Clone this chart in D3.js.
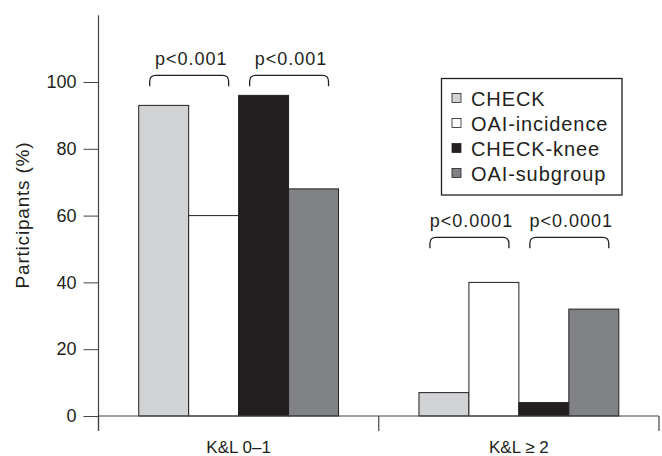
<!DOCTYPE html>
<html><head><meta charset="utf-8">
<script src="https://cdn.jsdelivr.net/npm/d3@7"></script>
<style>
body{margin:0;background:#fff;}
text{font-family:"Liberation Sans",Arial,Helvetica,sans-serif;fill:#231f20;}
</style></head>
<body><svg id="chart" width="662" height="456"></svg>
<script>
const groups = ["K&L 0\u20131", "K&L \u2265 2"];
const series = ["CHECK", "OAI-incidence", "CHECK-knee", "OAI-subgroup"];
const colors = ["#d1d3d4", "#ffffff", "#231f20", "#808285"];
const valuesKL01 = [93, 60, 96, 68];
const valuesKL2 = [7, 40, 4, 32];
const yTicks = [0, 20, 40, 60, 80, 100];
const pLabels = [["p<0.001", "p<0.001"], ["p<0.0001", "p<0.0001"]];
const bracketLevels = [102, 53.5];

const values = [valuesKL01, valuesKL2];
const svg = d3.select("#chart");
const mLeft = 98.5, mRight = 659, mTop = 15.2, mBase = 416;

const y = d3.scaleLinear().domain([0, 120]).range([mBase, mTop]);
const x0 = d3.scaleBand().domain(groups).range([mLeft, mRight]).padding(0);
const x1 = d3.scaleBand().domain(series).range([0, x0.bandwidth()]).paddingInner(0).paddingOuter(0.805);
const color = d3.scaleOrdinal().domain(series).range(colors);

// bars
groups.forEach((g, gi) => {
  const gEl = svg.append("g").attr("transform", `translate(${x0(g)},0)`);
  gEl.selectAll("rect").data(series.map((s, i) => ({s, v: values[gi][i]})))
    .enter().append("rect")
    .attr("x", d => x1(d.s))
    .attr("y", d => y(d.v))
    .attr("width", x1.bandwidth())
    .attr("height", d => y(0) - y(d.v))
    .attr("fill", d => color(d.s))
    .attr("stroke", "#231f20")
    .attr("stroke-width", 1);

  // brackets
  const pairs = [[0, 1], [2, 3]];
  pairs.forEach((p, pi) => {
    const xa = x0(g) + x1(series[p[0]]) + 11;
    const xb = x0(g) + x1(series[p[1]]) + x1.bandwidth() - 10;
    const yt = y(bracketLevels[gi]);
    const h = 11, r = 6;
    const path = `M${xa},${yt + h} L${xa},${yt + r} Q${xa},${yt} ${xa + r},${yt} L${xb - r},${yt} Q${xb},${yt} ${xb},${yt + r} L${xb},${yt + h}`;
    svg.append("path").attr("d", path).attr("fill", "none").attr("stroke", "#231f20").attr("stroke-width", 1.3);
    svg.append("text").attr("x", (xa + xb) / 2 + 2).attr("y", yt - 10)
      .attr("text-anchor", "middle").style("font-size", "18px").style("letter-spacing", "1px")
      .text(pLabels[gi][pi]);
  });
});

// y axis
const yAxis = d3.axisLeft(y).tickValues(yTicks).tickSize(15).tickPadding(7).tickFormat(d3.format("d"));
const ya = svg.append("g").attr("transform", `translate(${mLeft},0)`).call(yAxis);
ya.select(".domain").remove();
ya.selectAll(".tick line").attr("stroke", "#444").attr("stroke-width", 1);
ya.selectAll(".tick text").style("font-size", "18px").attr("fill", "#231f20").attr("font-family", null);
svg.append("line").attr("x1", mLeft).attr("x2", mLeft).attr("y1", mTop).attr("y2", mBase + 15)
  .attr("stroke", "#444").attr("stroke-width", 1.2);

// x axis
const xAxis = d3.axisBottom(x0).tickSize(0).tickPadding(25);
const xa = svg.append("g").attr("transform", `translate(0,${mBase})`).call(xAxis);
xa.select(".domain").attr("stroke", "#444").attr("d", `M${mLeft},0H${mRight}`);
xa.selectAll(".tick text").style("font-size", "17px").attr("fill", "#231f20").attr("font-family", null);
const bounds = [mLeft, x0(groups[1]), mRight];
svg.selectAll(".xsep").data(bounds).enter().append("line")
  .attr("x1", d => d).attr("x2", d => d).attr("y1", mBase).attr("y2", mBase + 15)
  .attr("stroke", "#444").attr("stroke-width", 1.2);

// y label
svg.append("text").attr("transform", "translate(29,215) rotate(-90)")
  .attr("text-anchor", "middle").style("font-size", "19px").style("letter-spacing", "0.8px")
  .text("Participants (%)");

// legend
const lg = svg.append("g").attr("transform", "translate(441.5,78.5)");
lg.append("rect").attr("width", 180.5).attr("height", 116.5).attr("fill", "#fff")
  .attr("stroke", "#231f20").attr("stroke-width", 1.3);
series.forEach((s, i) => {
  const cy = 20 + i * 25;
  lg.append("rect").attr("x", 10.5).attr("y", cy - 5).attr("width", 9).attr("height", 9)
    .attr("fill", color(s)).attr("stroke", "#231f20").attr("stroke-width", 0.8);
  lg.append("text").attr("x", 29.5).attr("y", cy + 7).style("font-size", "20px")
    .style("letter-spacing", "0.9px").text(s);
});
</script></body></html>
